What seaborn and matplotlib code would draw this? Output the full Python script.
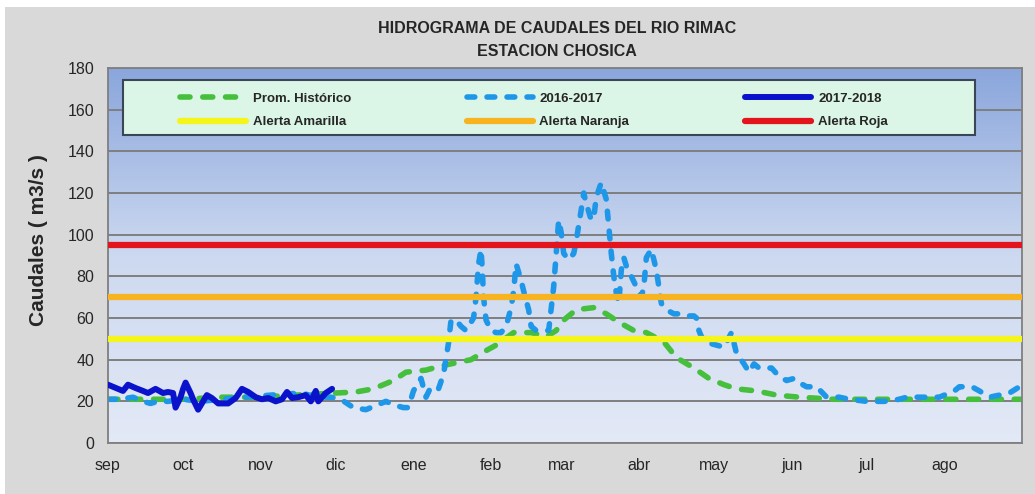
import numpy as np
import seaborn as sns
import matplotlib.pyplot as plt
from matplotlib.colors import LinearSegmentedColormap
from matplotlib.patches import Rectangle

# datos (dias desde el 1 de setiembre, caudal en m3/s)
meses = ['sep', 'oct', 'nov', 'dic', 'ene', 'feb', 'mar', 'abr', 'may', 'jun', 'jul', 'ago']
inicio_mes = [0, 30, 61, 91, 122, 153, 181, 212, 242, 273, 303, 334]

hist_dias = [0, 15, 30, 45, 60, 75, 91, 99, 106, 114, 119, 127, 133, 139, 145, 149, 155, 162, 169,
             175, 179, 182, 187, 194, 199, 204, 210, 215, 222, 227, 234, 240, 246, 251, 259, 267,
             276, 290, 305, 320, 335, 350, 365]
hist_q = [21, 21, 21, 22, 22, 23, 24, 24.5, 26, 30, 34, 35, 37, 38.5, 40, 43, 47, 53, 53,
          51, 54, 59, 64, 65, 62, 58, 54, 53, 48.5, 41, 36, 31, 28, 26, 25, 23,
          22, 21, 21, 21, 21, 21, 21]

q1617_dias = [0, 5, 10, 14, 17, 20, 24, 30, 37, 45, 55, 65, 77, 84, 89, 93, 98, 103, 107, 111,
              115, 118, 120, 122, 125, 127, 129, 132, 134, 136, 137, 139, 141, 143, 146, 147,
              148, 149, 149.5, 150, 151, 153, 155, 157, 159, 161, 162, 163, 165, 166, 168, 169,
              171, 174, 176, 178, 179, 180, 181, 182, 184, 186, 187, 189, 190, 191, 193, 194,
              195, 197, 199, 200, 201, 202, 203, 204, 205, 206, 207, 209, 211, 213, 214, 215,
              217, 219, 220, 221, 223, 226, 228, 231, 234, 235, 236, 237, 240, 243, 246, 249,
              251, 254, 256, 258, 260, 265, 268, 271, 274, 276, 279, 283, 287, 292, 296, 303,
              310, 316, 319, 327, 332, 338, 340, 345, 348, 352, 356, 360, 364]
q1617 = [21, 21, 22, 20, 19, 20, 20, 21, 20, 21, 22, 23, 24, 22, 22, 21, 17, 16, 18, 20,
         18, 17, 17, 25, 31, 22, 27, 26, 33, 48, 59, 59, 56, 54, 60, 70,
         86, 93, 83, 70, 59, 54, 53, 53, 56, 65, 73, 86, 78, 73, 64, 56,
         54, 54, 54, 75, 91, 107, 101, 91, 88, 91, 97, 112, 120, 115, 107, 108,
         118, 125, 117, 104, 91, 80, 72, 67, 83, 89, 85, 80, 75, 70, 75, 89,
         93, 83, 75, 67, 64, 62, 62, 61, 61, 60, 54, 51, 48, 47, 46, 53,
         43, 38, 34, 38, 36, 36, 32, 30, 31, 29, 27, 27, 22, 22, 21, 20,
         20, 21, 22, 22, 22, 25, 27, 27, 25, 22, 23, 24, 27]

q1718_dias = [0, 2, 6, 8, 11, 14, 16, 19, 22, 24, 26, 27, 29, 30, 31, 33, 34, 36, 37.5, 39.5,
              41.5, 44, 48, 51, 53.5, 56, 59, 61.5, 64, 67, 69.5, 71.5, 73.5, 76, 79, 81, 83,
              84, 87, 89.5]
q1718 = [28, 27, 25, 28, 26.4, 25, 24, 26, 24, 24.5, 24, 17, 22, 26, 29, 24, 21, 16, 19, 23,
         21.6, 19, 19, 21.6, 26, 24.5, 22, 21, 21.6, 20, 21, 24.5, 21.6, 22, 23, 20, 25,
         20, 24, 26]

alerta_amarilla = 50
alerta_naranja = 70
alerta_roja = 95

sns.set_style('white')
plt.rcParams['font.family'] = ['Liberation Sans', 'DejaVu Sans']

fig = plt.figure(figsize=(10.35, 4.94), dpi=100)
fig.patch.set_facecolor('white')
fig.add_artist(Rectangle((0.005, 0), 0.995, 0.985, transform=fig.transFigure,
                         facecolor='#d9d9d9', edgecolor='none', zorder=-10))

ax = fig.add_axes([0.1043, 0.1032, 0.8831, 0.7591])

# fondo degradado del area de grafico
fondo = LinearSegmentedColormap.from_list('fondo', ['#e3e9f6', '#cdd9f0', '#8aa6dc'])
ax.imshow(np.linspace(0, 1, 256).reshape(-1, 1), cmap=fondo, origin='lower',
          extent=[0, 365, 0, 180], aspect='auto', zorder=0)

sns.lineplot(x=hist_dias, y=hist_q, ax=ax, color='#45bf3c', lw=4,
             linestyle=(0, (1.8, 2.3)), dash_capstyle='round', zorder=2)
sns.lineplot(x=q1617_dias, y=q1617, ax=ax, color='#1f97e8', lw=4,
             linestyle=(0, (1.4, 2.2)), dash_capstyle='round', zorder=2)
sns.lineplot(x=q1718_dias, y=q1718, ax=ax, color='#0a12cc', lw=4.3,
             solid_capstyle='round', solid_joinstyle='round', zorder=4)
ax.axhline(alerta_amarilla, color='#f5f51c', lw=4.5, zorder=3)
ax.axhline(alerta_naranja, color='#f7b320', lw=4.5, zorder=3)
ax.axhline(alerta_roja, color='#e3141c', lw=4.5, zorder=3)

ax.set_xlim(0, 365)
ax.set_ylim(0, 180)
ax.set_yticks(range(0, 181, 20))
ax.set_xticks(inicio_mes + [365])
ax.set_xticklabels(meses + [''])
ax.set_axisbelow(True)
ax.yaxis.grid(True, color='#7f7f7f', lw=1.4)
ax.xaxis.grid(False)
ax.tick_params(axis='y', length=0, pad=10, labelsize=11.5)
ax.tick_params(axis='x', length=5, width=1.2, color='#7f7f7f', direction='out', pad=6, labelsize=11.5)
for s in ax.spines.values():
    s.set_color('#7f7f7f')
    s.set_linewidth(1.3)
ax.set_xlabel('')
ax.set_ylabel('Caudales ( m3/s )', fontsize=15, fontweight='bold')
ax.yaxis.set_label_coords(-0.066, 0.54)

# leyenda con recuadro propio
ax.add_patch(Rectangle((0.0164, 0.821), 0.932, 0.147, transform=ax.transAxes,
                       facecolor='#dbf6e6', edgecolor='#3a4656', lw=1.5, zorder=5))
lineas = ax.get_lines()
handles = [lineas[0], lineas[3], lineas[1], lineas[4], lineas[2], lineas[5]]
labels = ['Prom. Histórico', 'Alerta Amarilla', '2016-2017', 'Alerta Naranja', '2017-2018', 'Alerta Roja']
leg = ax.legend(handles, labels, ncol=3, loc='center', bbox_to_anchor=(0.466, 0.887),
                frameon=False, prop={'weight': 'bold', 'size': 9.5}, handlelength=5.0,
                handletextpad=0.5, columnspacing=8.8, labelspacing=0.85)
leg.set_zorder(6)

fig.text(0.538, 0.943, 'HIDROGRAMA DE CAUDALES DEL RIO RIMAC', ha='center', va='center',
         fontsize=11.5, fontweight='bold')
fig.text(0.538, 0.895, 'ESTACION CHOSICA', ha='center', va='center',
         fontsize=11.5, fontweight='bold')

plt.savefig('out.png', dpi=100)
plt.close()
